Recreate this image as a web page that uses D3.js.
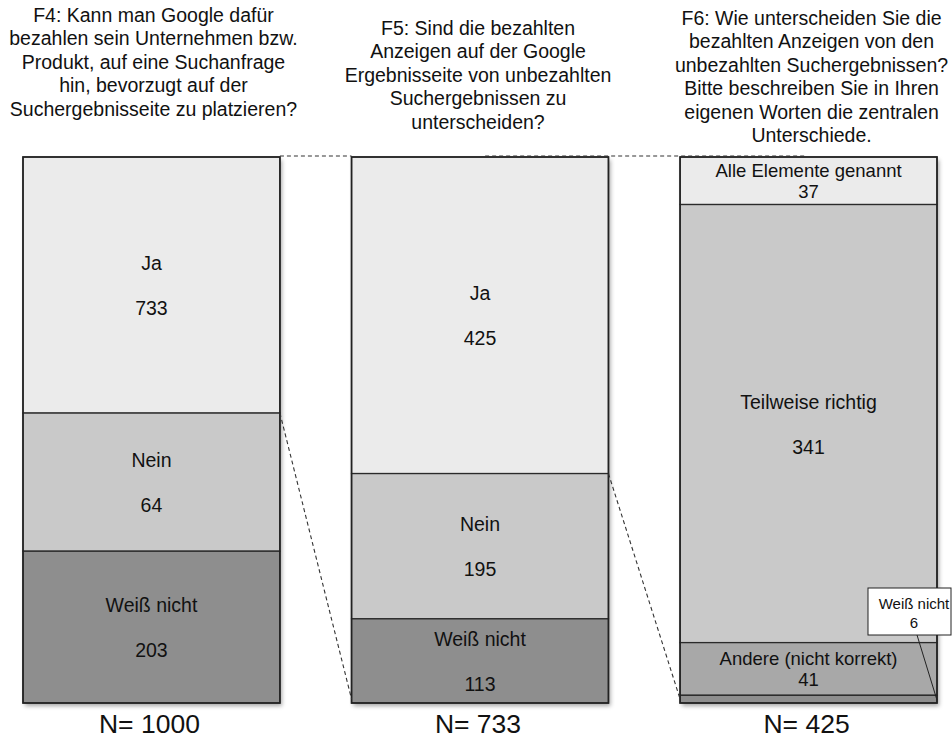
<!DOCTYPE html>
<html>
<head>
<meta charset="utf-8">
<script src="https://cdn.jsdelivr.net/npm/d3@7"></script>
<style>
  body { margin: 0; background: #fff; }
  text { font-family: "Liberation Sans", Arial, sans-serif; fill: #111; }
</style>
</head>
<body>
<svg id="chart"></svg>
<script>
const questions = ["F4", "F5", "F6"];
const titles = [
  ["F4: Kann man Google dafür", "bezahlen sein Unternehmen bzw.", "Produkt, auf eine Suchanfrage",
   "hin, bevorzugt auf der", "Suchergebnisseite zu platzieren?"],
  ["F5: Sind die bezahlten", "Anzeigen auf der Google", "Ergebnisseite von unbezahlten",
   "Suchergebnissen zu", "unterscheiden?"],
  ["F6: Wie unterscheiden Sie die", "bezahlten Anzeigen von den", "unbezahlten Suchergebnissen?",
   "Bitte beschreiben Sie in Ihren", "eigenen Worten die zentralen", "Unterschiede."]
];
const nTotals = [1000, 733, 425];

const f4Categories = ["Ja", "Nein", "Weiß nicht"];
const f4Values = [733, 64, 203];
// the first bar of the original is not drawn to scale: shares (%)
const f4Drawn = [46.9, 25.3, 27.8];

const f5Categories = ["Ja", "Nein", "Weiß nicht"];
const f5Values = [425, 195, 113];

const f6Categories = ["Alle Elemente genannt", "Teilweise richtig", "Andere (nicht korrekt)", "Weiß nicht"];
const f6Values = [37, 341, 41, 6];

const bars = [
  { cats: f4Categories, values: f4Values, drawn: f4Drawn },
  { cats: f5Categories, values: f5Values, drawn: f5Values },
  { cats: f6Categories, values: f6Values, drawn: f6Values }
];

const W = 952, H = 742;
const yTop = 157, yBottom = 703;

const svg = d3.select("#chart").attr("width", W).attr("height", H);

const defs = svg.append("defs");
defs.append("filter").attr("id", "shadow")
  .attr("x", "-10%").attr("y", "-10%").attr("width", "130%").attr("height", "130%")
  .append("feDropShadow")
  .attr("dx", 2).attr("dy", 3).attr("stdDeviation", 2)
  .attr("flood-color", "#000").attr("flood-opacity", 0.35);

const x = d3.scaleBand().domain(questions).range([23, 937]).paddingInner(0.218).paddingOuter(0);
const bw = x.bandwidth();

const color = d3.scaleOrdinal()
  .domain(["Ja", "Alle Elemente genannt", "Nein", "Teilweise richtig", "Andere (nicht korrekt)", "Weiß nicht"])
  .range(["#ebebeb", "#ebebeb", "#c9c9c9", "#c9c9c9", "#a8a8a8", "#8e8e8e"]);

// layout of the question titles (centre offset, first line y)
const titleLayout = [{ dx: 2, y: 15 }, { dx: -2, y: 28 }, { dx: 3, y: 18 }];

const layers = svg.append("g");
const connectors = svg.append("g");

bars.forEach((b, i) => {
  const q = questions[i];
  const x0 = x(q);
  const y = d3.scaleLinear().domain([0, d3.sum(b.drawn)]).range([yTop, yBottom]);
  const cum = d3.cumsum(b.drawn);
  const segs = b.cats.map((c, j) => ({
    cat: c, value: b.values[j], y0: y(cum[j] - b.drawn[j]), y1: y(cum[j])
  }));
  b.segs = segs;

  const g = layers.append("g");
  g.append("rect")
    .attr("x", x0).attr("y", yTop).attr("width", bw).attr("height", yBottom - yTop)
    .attr("fill", "#fff").attr("filter", "url(#shadow)");

  g.selectAll("rect.seg").data(segs).join("rect")
    .attr("class", "seg")
    .attr("x", x0).attr("y", d => d.y0)
    .attr("width", bw).attr("height", d => d.y1 - d.y0)
    .attr("fill", d => color(d.cat))
    .attr("stroke", "#2a2a2a").attr("stroke-width", 1.3);

  g.append("rect")
    .attr("x", x0).attr("y", yTop).attr("width", bw).attr("height", yBottom - yTop)
    .attr("fill", "none").attr("stroke", "#222").attr("stroke-width", 1.6);

  const cx = x0 + bw / 2;
  segs.forEach(d => {
    const h = d.y1 - d.y0;
    if (h < 15) {
      // small segment: labelled by a callout box
      const bx = x0 + bw - 69, by = 588, bwid = 83, bh = 47;
      g.append("line")
        .attr("x1", bx + 49).attr("y1", by + bh)
        .attr("x2", x0 + bw).attr("y2", (d.y0 + d.y1) / 2 + 1)
        .attr("stroke", "#222").attr("stroke-width", 1);
      g.append("rect").attr("x", bx).attr("y", by).attr("width", bwid).attr("height", bh)
        .attr("fill", "#fff").attr("stroke", "#222").attr("stroke-width", 1);
      [d.cat, d.value].forEach((t, k) => {
        g.append("text").attr("x", bx + 46).attr("y", by + 15 + k * 19)
          .attr("text-anchor", "middle").attr("dominant-baseline", "central")
          .style("font-size", "15px").text(t);
      });
      return;
    }
    const mid = (d.y0 + d.y1) / 2;
    const small = h < 60;
    const off = small ? [-10, 11] : [-22, 23];
    [d.cat, d.value].forEach((t, k) => {
      g.append("text").attr("x", cx).attr("y", mid + off[k])
        .attr("text-anchor", "middle").attr("dominant-baseline", "central")
        .style("font-size", small ? "18.5px" : "19.5px").text(t);
    });
  });

  // title
  const tl = titleLayout[i];
  svg.append("g").selectAll("text").data(titles[i]).join("text")
    .attr("x", cx + tl.dx).attr("y", (d, k) => tl.y + k * 23.4)
    .attr("text-anchor", "middle").attr("dominant-baseline", "central")
    .style("font-size", "19.5px").text(d => d);

  // N label
  svg.append("text")
    .attr("x", cx - 2).attr("y", 724)
    .attr("text-anchor", "middle").attr("dominant-baseline", "central")
    .style("font-size", "26.5px").text("N= " + nTotals[i]);
});

// dashed connectors: first segment of one bar expands into the next bar
const dash = { stroke: "#333", "stroke-width": 1.1, "stroke-dasharray": "4,3", fill: "none" };
for (let i = 0; i < bars.length - 1; i++) {
  const xa = x(questions[i]) + bw, xb = x(questions[i + 1]);
  const first = bars[i].segs[0];
  const topStart = i === 0 ? xa : x(questions[i]) + bw * 0.52;
  const topEnd = i === 0 ? xb : xb + bw * 0.49;
  const lines = [
    [topStart, yTop - 1, topEnd, yTop - 1],
    [xa, first.y1, xb, yBottom - 4]
  ];
  lines.forEach(l => {
    const ln = connectors.append("line")
      .attr("x1", l[0]).attr("y1", l[1]).attr("x2", l[2]).attr("y2", l[3]);
    Object.entries(dash).forEach(([k, v]) => ln.attr(k, v));
  });
}
</script>
</body>
</html>
